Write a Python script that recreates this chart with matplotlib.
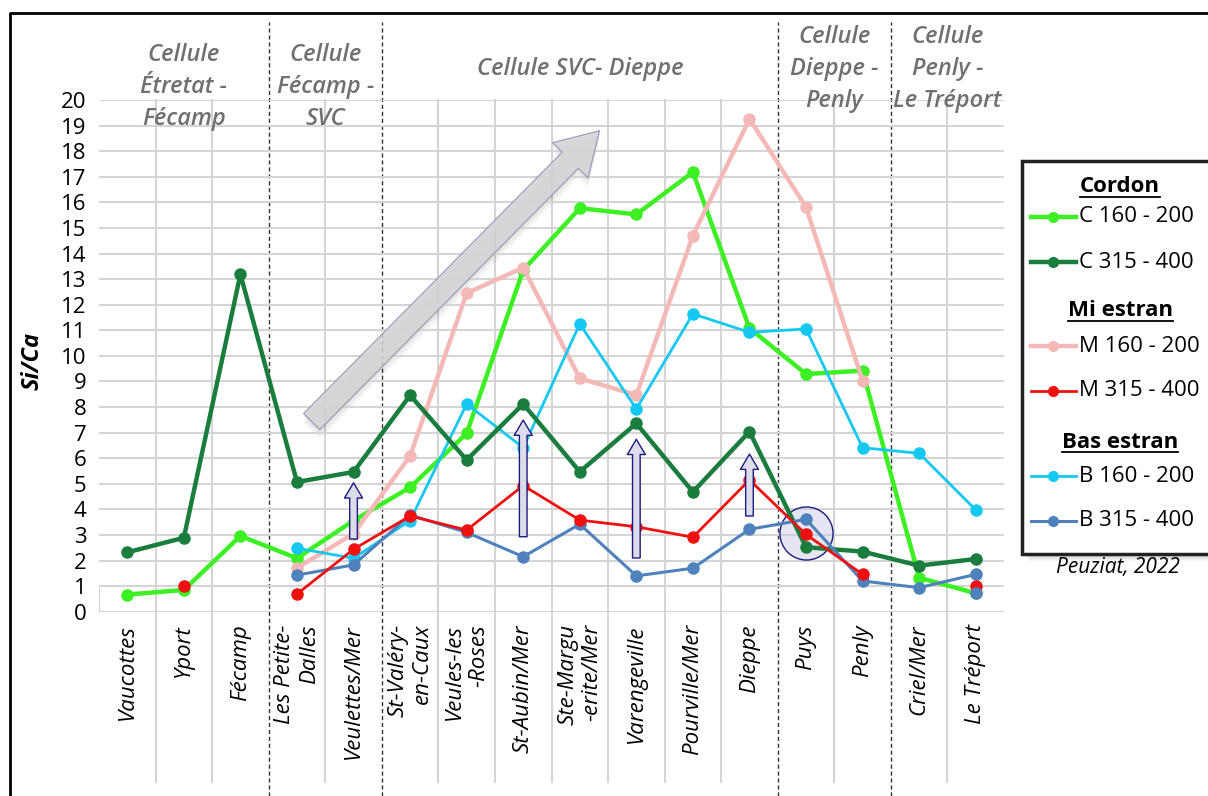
import numpy as np
import matplotlib.pyplot as plt
from matplotlib.patches import FancyArrowPatch, Rectangle

plt.rcParams['font.family'] = ['Open Sans', 'DejaVu Sans']

nan = np.nan
sites = ['Vaucottes', 'Yport', 'Fécamp', 'Les Petite-\nDalles', 'Veulettes/Mer',
         'St-Valéry-\nen-Caux', 'Veules-les\n-Roses', 'St-Aubin/Mer', 'Ste-Margu\n-erite/Mer',
         'Varengeville', 'Pourville/Mer', 'Dieppe', 'Puys', 'Penly', 'Criel/Mer', 'Le Tréport']

# Si/Ca par site
c160 = [0.67, 0.85, 2.96, 2.09, 3.56, 4.86, 6.97, 13.35, 15.77, 15.53, 17.18, 11.08, 9.29, 9.42, 1.33, 0.72]
c315 = [2.32, 2.89, 13.19, 5.07, 5.46, 8.46, 5.93, 8.12, 5.47, 7.36, 4.68, 7.04, 2.52, 2.35, 1.80, 2.06]
m160 = [nan, nan, nan, 1.70, 3.05, 6.09, 12.45, 13.45, 9.12, 8.47, 14.70, 19.26, 15.81, 9.03, nan, nan]
m315 = [nan, 1.02, nan, 0.69, 2.44, 3.74, 3.19, 4.93, 3.58, 3.32, 2.91, 5.15, 3.02, 1.46, nan, 1.02]
b160 = [nan, nan, nan, 2.48, 2.09, 3.56, 8.12, 6.41, 11.25, 7.92, 11.64, 10.92, 11.05, 6.41, 6.19, 3.98]
b315 = [nan, nan, nan, 1.43, 1.83, 3.78, 3.10, 2.15, 3.42, 1.40, 1.70, 3.22, 3.61, 1.20, 0.94, 1.46]
b315_extra_x = [15]
b315_extra_y = [0.72]

cells = ['Cellule\nÉtretat -\nFécamp', 'Cellule\nFécamp -\nSVC', 'Cellule SVC- Dieppe',
         'Cellule\nDieppe -\nPenly', 'Cellule\nPenly -\nLe Tréport']
cell_bounds = [-0.5, 2.5, 4.5, 11.5, 13.5, 15.5]
cell_y = [20.5, 20.5, 21.2, 21.2, 21.2]

# fleches verticales (site, debut, fin)
arr_x = [4, 7, 9, 11]
arr_y0 = [2.84, 2.93, 2.10, 3.74]
arr_y1 = [5.04, 7.49, 6.74, 6.16]

series = [
    ('C 160 - 200', c160, '#3cf023', 3.2, 8),
    ('M 160 - 200', m160, '#f4b9b6', 3.2, 8),
    ('B 160 - 200', b160, '#15c8f2', 2.0, 8),
    ('C 315 - 400', c315, '#1a7d3e', 3.2, 8),
    ('B 315 - 400', b315, '#4f81bd', 2.2, 8),
    ('M 315 - 400', m315, '#f01010', 2.0, 8),
]

fig = plt.figure(figsize=(12.08, 7.96), dpi=100)
ax = fig.add_axes([99 / 1208, 1 - 611.7 / 796, 905 / 1208, 511.7 / 796])
x = np.arange(len(sites))

ax.set_xlim(-0.5, 15.5)
ax.set_ylim(0, 20)
for s in ax.spines.values():
    s.set_visible(False)
ax.set_yticks(range(21))
ax.tick_params(axis='y', length=0, labelsize=16, pad=9)
ax.set_xticks(x)
ax.set_xticklabels(sites, rotation=90, fontsize=16, fontstyle='italic', va='top', ha='center')
for lab in ax.get_xticklabels():
    lab.set_multialignment('right')
ax.tick_params(axis='x', length=0, pad=9)
ax.grid(axis='y', color='#d5d5d5', lw=1.5, zorder=0)

xt = ax.get_xaxis_transform()
ax.plot([-0.5, -0.5], [0, 1], color='#d5d5d5', lw=1.5, zorder=0)
for b in np.arange(0.5, 16, 1):
    if b in cell_bounds:
        continue
    ax.plot([b, b], [-0.333, 1], color='#d5d5d5', lw=1.5, transform=xt, clip_on=False, zorder=0)
for b in cell_bounds[1:-1]:
    ax.plot([b, b], [-0.36, 1.152], color='#333333', lw=1, ls=(0, (3, 2)), transform=xt,
            clip_on=False, zorder=1)

# grande fleche
for k in range(6):
    sh = FancyArrowPatch((3.26, 7.43 - 0.08 * k), (8.35, 18.8 - 0.08 * k),
                         arrowstyle='simple,tail_width=0.55,head_width=1.2,head_length=1.0',
                         mutation_scale=30, shrinkA=0, shrinkB=0, lw=0,
                         color='#000000', alpha=0.025, zorder=1)
    ax.add_patch(sh)
big = FancyArrowPatch((3.26, 7.43), (8.35, 18.8),
                      arrowstyle='simple,tail_width=0.55,head_width=1.2,head_length=1.0',
                      mutation_scale=30, shrinkA=0, shrinkB=0, lw=0.8,
                      facecolor='#d4d4d6', edgecolor='#8a8ab5', alpha=0.85, zorder=2)
ax.add_patch(big)

ax.scatter([12], [3.09], s=1460, facecolor=(0.78, 0.78, 0.9, 0.45), edgecolor='#1c1c80',
           lw=1, zorder=2.5)

for name, vals, col, lw, ms in series:
    ax.plot(x, vals, color=col, lw=lw, marker='o', ms=ms, zorder=3)
ax.plot(b315_extra_x, b315_extra_y, 'o', color='#4f81bd', ms=8, zorder=3)

for xa, y0, y1 in zip(arr_x, arr_y0, arr_y1):
    ax.add_patch(FancyArrowPatch((xa, y0), (xa, y1),
                                 arrowstyle='simple,tail_width=0.55,head_width=1.3,head_length=1.1',
                                 mutation_scale=10, shrinkA=0, shrinkB=0, lw=1,
                                 facecolor='#dcdcea', edgecolor='#1c1c80', zorder=4))

for name, b0, b1, cy in zip(cells, cell_bounds[:-1], cell_bounds[1:], cell_y):
    ax.text((b0 + b1) / 2, cy, name, ha='center', va='center', fontsize=17, color='#707070',
            fontweight='semibold', fontstyle='italic', linespacing=1.45, clip_on=False,
            family=['Liberation Sans Narrow', 'Open Sans', 'DejaVu Sans'])

# calque en pixels pour cadre et legende
ov = fig.add_axes([0, 0, 1, 1])
ov.set_xlim(0, 1208)
ov.set_ylim(796, 0)
ov.axis('off')
ov.plot([10, 10, 1215], [800, 13, 13], color='black', lw=2)

ov.text(33, 361, 'Si/Ca', rotation=90, ha='center', va='center', fontsize=17,
        fontweight='bold', fontstyle='italic')

for k in range(8):
    ov.add_patch(Rectangle((1022 + k, 161 + k), 200, 393, facecolor='black', alpha=0.03, lw=0))
ov.add_patch(Rectangle((1022, 161), 200, 393, facecolor='white', edgecolor='#222222', lw=2.5))

heads = [('Cordon', 187), ('Mi estran', 311), ('Bas estran', 442)]
rows_y = [217, 262, 346, 391, 476, 521]
order = [0, 3, 1, 5, 2, 4]
head_txt = []
for h, hy in heads:
    head_txt.append((ov.text(1120, hy, h, ha='center', va='center', fontsize=16,
                             fontweight='bold'), hy))
for ry, i in zip(rows_y, order):
    name, vals, col, lw, ms = series[i]
    ov.plot([1031, 1076], [ry, ry], color=col, lw=lw)
    ov.plot([1053], [ry], 'o', color=col, ms=7)
    ov.text(1079, ry, name, ha='left', va='center', fontsize=16)

ov.text(1118, 568, 'Peuziat, 2022', ha='center', va='center', fontsize=15, fontstyle='italic')

fig.canvas.draw()
r = fig.canvas.get_renderer()
inv = ov.transData.inverted()
for t, hy in head_txt:
    bb = t.get_window_extent(r)
    (xa, _), (xb, _) = inv.transform([[bb.x0, bb.y0], [bb.x1, bb.y1]])
    ov.plot([xa, xb], [hy + 10, hy + 10], color='black', lw=1.3)

fig.savefig('out.png', dpi=100)
